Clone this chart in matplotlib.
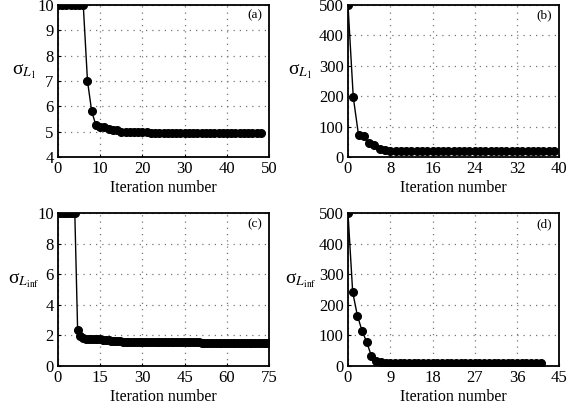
import numpy as np
import matplotlib
matplotlib.use("Agg")
import matplotlib.pyplot as plt

plt.rcParams['font.family'] = ['Liberation Serif', 'DejaVu Serif']
plt.rcParams['mathtext.fontset'] = 'stix'

# (a) sigma_L1, up to 50 iterations
a_y = [10, 10, 10, 10, 10, 10, 10, 7.0, 5.8, 5.25, 5.2, 5.18, 5.1, 5.08, 5.05,
       5.0, 5.0, 4.99, 4.98, 4.98, 4.97, 4.97, 4.96, 4.96, 4.96, 4.95, 4.95,
       4.95, 4.95, 4.95, 4.95, 4.95, 4.95, 4.95, 4.95, 4.95, 4.95, 4.95, 4.95,
       4.95, 4.95, 4.95, 4.95, 4.95, 4.95, 4.95, 4.95, 4.95, 4.95]
# (b) sigma_L1, up to 40 iterations
b_y = [500, 197, 72, 70, 45, 38, 25, 22] + [21] * 32
# (c) sigma_Linf, up to 75 iterations
c_y = ([10, 10, 10, 10, 10, 10, 10, 2.35, 1.95, 1.85, 1.78, 1.76, 1.75, 1.75,
        1.75, 1.74, 1.73, 1.71, 1.69, 1.67, 1.65, 1.63, 1.61, 1.6, 1.59, 1.58,
        1.57, 1.56, 1.56, 1.55, 1.55] + [1.54] * 20 + [1.53] * 25)
# (d) sigma_Linf, up to 45 iterations
d_y = [500, 242, 165, 115, 78, 32, 15, 12] + [10] * 34

panels = [
    (a_y, (0, 50), np.arange(0, 51, 10), (4, 10), np.arange(4, 11, 1),
     r'σ$_{L_1}$', '(a)'),
    (b_y, (0, 40), np.arange(0, 41, 8), (0, 500), np.arange(0, 501, 100),
     r'σ$_{L_1}$', '(b)'),
    (c_y, (0, 75), np.arange(0, 76, 15), (0, 10), np.arange(0, 11, 2),
     r'σ$_{L_{\mathrm{inf}}}$', '(c)'),
    (d_y, (0, 45), np.arange(0, 46, 9), (0, 500), np.arange(0, 501, 100),
     r'σ$_{L_{\mathrm{inf}}}$', '(d)'),
]

positions = [
    [0.100, 0.616, 0.365, 0.372],
    [0.601, 0.616, 0.365, 0.372],
    [0.100, 0.105, 0.365, 0.374],
    [0.601, 0.105, 0.365, 0.374],
]
label_x = [-0.16, -0.225, -0.16, -0.225]

fig = plt.figure(figsize=(5.79, 4.09), dpi=100)

for i, (y, xlim, xt, ylim, yt, ylab, tag) in enumerate(panels):
    ax = fig.add_axes(positions[i])
    x = np.arange(len(y))
    ax.plot(x, y, '-', color='black', lw=1.0, marker='o', markersize=5.5)
    ax.set_xlim(*xlim)
    ax.set_ylim(*ylim)
    ax.set_xticks(xt)
    ax.set_yticks(yt)
    ax.grid(True, linestyle=(0, (1, 4)), color='#777777', linewidth=0.9)
    ax.tick_params(direction='in', length=2, labelsize=12, pad=3)
    for s in ax.spines.values():
        s.set_linewidth(1.3)
    ax.set_xlabel('Iteration number', fontsize=11.5, labelpad=2)
    ax.set_ylabel(ylab, fontsize=14, rotation=0)
    ax.yaxis.set_label_coords(label_x[i], 0.5)
    ax.text(0.93, 0.93, tag, transform=ax.transAxes, fontsize=9.5,
            ha='center', va='center')

fig.savefig('out.png', dpi=100)
